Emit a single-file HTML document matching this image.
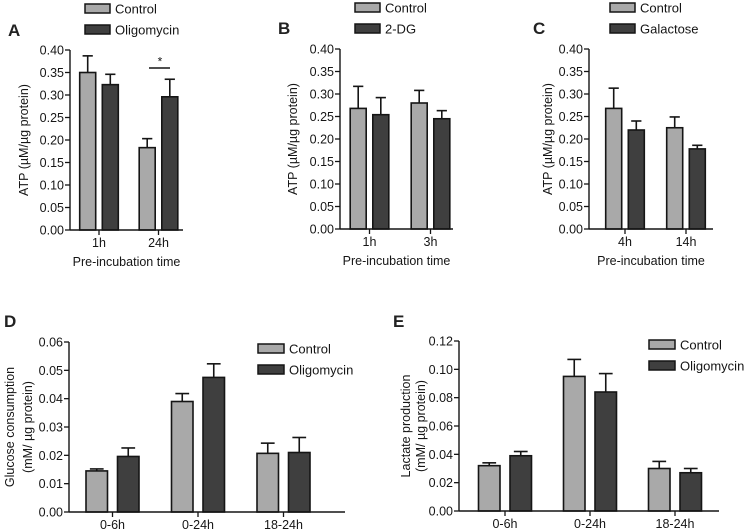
<!DOCTYPE html>
<html><head><meta charset="utf-8"><style>
body{margin:0;background:#fff}
svg{display:block;font-family:"Liberation Sans",sans-serif}
</style></head><body>
<svg id="fig" width="744" height="532" viewBox="0 0 744 532" xmlns="http://www.w3.org/2000/svg"></svg>
<script>
// ---- data ----
const catsA = ["1h","24h"];
const ctrlA = [0.350,0.183], ctrlErrA = [0.387,0.203];
const trtA = [0.323,0.296], trtErrA = [0.346,0.335];
const catsB = ["1h","3h"];
const ctrlB = [0.268,0.280], ctrlErrB = [0.317,0.308];
const trtB = [0.254,0.245], trtErrB = [0.292,0.263];
const catsC = ["4h","14h"];
const ctrlC = [0.268,0.225], ctrlErrC = [0.313,0.249];
const trtC = [0.220,0.178], trtErrC = [0.240,0.186];
const catsD = ["0-6h","0-24h","18-24h"];
const ctrlD = [0.0145,0.0390,0.0207], ctrlErrD = [0.0152,0.0418,0.0243];
const trtD = [0.0196,0.0475,0.0210], trtErrD = [0.0226,0.0523,0.0263];
const catsE = ["0-6h","0-24h","18-24h"];
const ctrlE = [0.032,0.095,0.030], ctrlErrE = [0.034,0.107,0.035];
const trtE = [0.039,0.084,0.027], trtErrE = [0.042,0.097,0.030];
const ticksABC = ["0.00","0.05","0.10","0.15","0.20","0.25","0.30","0.35","0.40"];
const ticksD = ["0.00","0.01","0.02","0.03","0.04","0.05","0.06"];
const ticksE = ["0.00","0.02","0.04","0.06","0.08","0.10","0.12"];

const svg = document.getElementById('fig');
const NS = "http://www.w3.org/2000/svg";
function mk(tag, attrs, text){
  const e = document.createElementNS(NS, tag);
  for (const k in attrs) e.setAttribute(k, attrs[k]);
  if (text !== undefined) e.textContent = text;
  svg.appendChild(e); return e;
}
const LIGHT="#a9a9a9", DARK="#3f3f3f", INK="#151515";

function panel(p){
  const ymax = parseFloat(p.ticks[p.ticks.length-1]);
  const y = v => p.y0 - v/ymax*(p.y0-p.yTop);
  const cx = i => p.c0 + i*p.step;
  p.cats.forEach((c,i)=>{
    [[p.ctrl,p.ctrlErr,LIGHT,-1,'control'],[p.trt,p.trtErr,DARK,1,'treatment']].forEach(([vals,errs,col,s,nm])=>{
      const x1 = s<0 ? cx(i)-p.hg-p.bw : cx(i)+p.hg;
      const xm = x1+p.bw/2;
      const cw = p.bw*0.32;
      let l = mk('line',{x1:xm,x2:xm,y1:y(vals[i]),y2:y(errs[i]),stroke:INK,'stroke-width':1.6});
      
      
      l = mk('line',{x1:xm-cw,x2:xm+cw,y1:y(errs[i]),y2:y(errs[i]),stroke:INK,'stroke-width':1.6});
      
      
      const r = mk('rect',{x:x1,y:y(vals[i]),width:p.bw,height:p.y0-y(vals[i]),fill:col,stroke:INK,'stroke-width':1.6});
      
      
    });
    const t = mk('line',{x1:cx(i),x2:cx(i),y1:p.y0,y2:p.y0+5,stroke:INK,'stroke-width':1.3});
    
    
    const tl = mk('text',{x:cx(i),y:p.y0+17,'text-anchor':'middle','font-size':12.5,fill:INK},c);
    
    
  });
  let a = mk('line',{x1:p.ax,x2:p.ax,y1:p.yTop,y2:p.y0,stroke:INK,'stroke-width':1.4});
   
  a = mk('line',{x1:p.ax,x2:p.axEnd,y1:p.y0,y2:p.y0,stroke:INK,'stroke-width':1.4});
   
  p.ticks.forEach(t=>{
    const v = parseFloat(t);
    const tk = mk('line',{x1:p.ax-5,x2:p.ax,y1:y(v),y2:y(v),stroke:INK,'stroke-width':1.3});
     
    const tl = mk('text',{x:p.ax-6,y:y(v)+4.5,'text-anchor':'end','font-size':12.5,fill:INK},t);
     
  });
  p.ytitle.forEach((line,k)=>{
    const tx = p.ytx[k], ty=(p.yTop+p.y0)/2;
    const e = mk('text',{x:tx,y:ty,'text-anchor':'middle','font-size':12.5,fill:INK,transform:`rotate(-90 ${tx} ${ty})`},line);
     
  });
  if (p.xtitle){
    const e = mk('text',{x:(p.ax+p.axEnd)/2,y:p.y0+36,'text-anchor':'middle','font-size':12.5,fill:INK},p.xtitle);
     
  }
  const L = mk('text',{x:p.lx,y:p.ly,'font-size':17,'font-weight':'bold',fill:'#222'},p.letter);
   
  [[LIGHT,p.legend[0]],[DARK,p.legend[1]]].forEach(([col,txt],k)=>{
    const yy = p.legY + k*p.legDy;
    const s = mk('rect',{x:p.legX,y:yy,width:p.legW,height:9,fill:col,stroke:INK,'stroke-width':1.5});
     
    const t = mk('text',{x:p.legX+p.legW+5,y:yy+9.5,'font-size':13,fill:INK},txt);
     
  });
}

panel({id:'panel-a',letter:'A',lx:8,ly:36,cats:catsA,ctrl:ctrlA,ctrlErr:ctrlErrA,trt:trtA,trtErr:trtErrA,ticks:ticksABC,
  ax:70,axEnd:183,yTop:50,y0:230,c0:99,step:59.5,bw:16,hg:3.3,ytitle:['ATP (µM/µg protein)'],ytx:[28],xtitle:'Pre-incubation time',
  legend:['Control','Oligomycin'],legX:85,legY:4,legDy:21,legW:25});
panel({id:'panel-b',letter:'B',lx:278,ly:34,cats:catsB,ctrl:ctrlB,ctrlErr:ctrlErrB,trt:trtB,trtErr:trtErrB,ticks:ticksABC,
  ax:340,axEnd:453,yTop:49,y0:229,c0:369.5,step:61,bw:16,hg:3.3,ytitle:['ATP (µM/µg protein)'],ytx:[297],xtitle:'Pre-incubation time',
  legend:['Control','2-DG'],legX:355,legY:3,legDy:21,legW:25});
panel({id:'panel-c',letter:'C',lx:533,ly:34,cats:catsC,ctrl:ctrlC,ctrlErr:ctrlErrC,trt:trtC,trtErr:trtErrC,ticks:ticksABC,
  ax:589,axEnd:713,yTop:49,y0:229,c0:625,step:61,bw:16,hg:3.3,ytitle:['ATP (µM/µg protein)'],ytx:[552],xtitle:'Pre-incubation time',
  legend:['Control','Galactose'],legX:610,legY:3,legDy:21,legW:25});
panel({id:'panel-d',letter:'D',lx:4,ly:327,cats:catsD,ctrl:ctrlD,ctrlErr:ctrlErrD,trt:trtD,trtErr:trtErrD,ticks:ticksD,
  ax:69,axEnd:345,yTop:342,y0:512,c0:112.5,step:85.5,bw:21.5,hg:5,ytitle:['Glucose consumption','(mM/ µg protein)'],ytx:[14,32],
  legend:['Control','Oligomycin'],legX:258,legY:344,legDy:21,legW:26});
panel({id:'panel-e',letter:'E',lx:393,ly:327,cats:catsE,ctrl:ctrlE,ctrlErr:ctrlErrE,trt:trtE,trtErr:trtErrE,ticks:ticksE,
  ax:459,axEnd:719,yTop:341,y0:511,c0:505,step:85,bw:21.5,hg:5,ytitle:['Lactate production','(mM/ µg protein)'],ytx:[410,425],
  legend:['Control','Oligomycin'],legX:649,legY:340,legDy:21,legW:26});

const sigY = v => 230 - v/0.40*180;
const sb = mk('line',{x1:149,x2:170,y1:sigY(0.36),y2:sigY(0.36),stroke:INK,'stroke-width':1.5});


const st = mk('text',{x:160,y:sigY(0.375)+4,'text-anchor':'middle','font-size':12,fill:INK},'*');


</script>
</body></html>
